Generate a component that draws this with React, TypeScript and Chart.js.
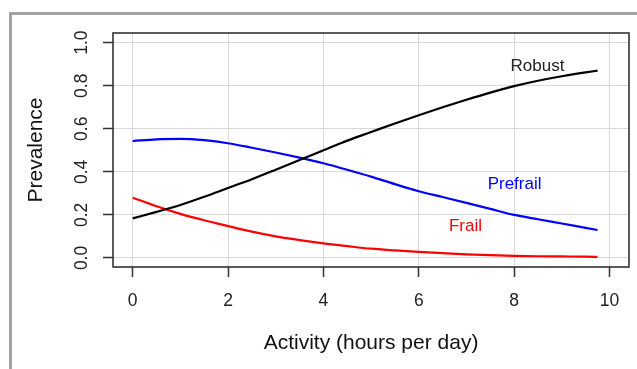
import React, { useEffect, useRef } from 'react';
import { Chart, registerables } from 'chart.js';

Chart.register(...registerables);

// ---- data ----
const activity = [0, 0.5, 1, 1.5, 2, 2.5, 3, 3.5, 4, 4.5, 5, 5.5, 6, 6.5, 7, 7.5, 8, 8.5, 9, 9.5, 9.75];
const robust = [0.184, 0.214, 0.246, 0.284, 0.325, 0.366, 0.41, 0.455, 0.5, 0.545, 0.585, 0.625, 0.663, 0.7, 0.735, 0.768, 0.798, 0.823, 0.844, 0.862, 0.87];
const prefrail = [0.543, 0.551, 0.553, 0.547, 0.533, 0.512, 0.49, 0.466, 0.44, 0.41, 0.378, 0.343, 0.31, 0.283, 0.256, 0.228, 0.2, 0.18, 0.16, 0.14, 0.13];
const frail = [0.28, 0.24, 0.205, 0.175, 0.148, 0.122, 0.1, 0.083, 0.068, 0.055, 0.043, 0.035, 0.028, 0.022, 0.017, 0.013, 0.01, 0.008, 0.007, 0.006, 0.005];

const seriesNames = ['Robust', 'Prefrail', 'Frail'];
const seriesColors = ['#000000', '#0000ff', '#ff0000'];
const labelColors = ['#222222', '#0000ff', '#ff0000'];
// label anchor positions in data units (x, y)
const labelX = [8.49, 8.01, 6.98];
const labelY = [0.89, 0.343, 0.149];

const xTicks = [0, 2, 4, 6, 8, 10];
const yTicks = [0, 0.2, 0.4, 0.6, 0.8, 1.0];

const xTitle = 'Activity (hours per day)';
const yTitle = 'Prevalence';

const FONT = "Arial, 'Liberation Sans', sans-serif";

const framePlugin = {
  id: 'frame',
  beforeDraw(chart: any) {
    const { ctx, width, height } = chart;
    ctx.save();
    ctx.fillStyle = '#ffffff';
    ctx.fillRect(0, 0, width, height);
    ctx.fillStyle = '#a3a3a3';
    ctx.fillRect(9, 12, width - 9, 3);
    ctx.fillRect(9, 12, 3, height - 12);
    ctx.restore();
  },
  afterDraw(chart: any) {
    const { ctx, chartArea, scales } = chart;
    ctx.save();
    // text labels
    ctx.font = `17px ${FONT}`;
    ctx.textAlign = 'center';
    ctx.textBaseline = 'middle';
    seriesNames.forEach((name, i) => {
      ctx.fillStyle = labelColors[i];
      ctx.fillText(name, scales.x.getPixelForValue(labelX[i]), scales.y.getPixelForValue(labelY[i]));
    });
    // box
    ctx.strokeStyle = '#333333';
    ctx.lineWidth = 1.6;
    ctx.strokeRect(chartArea.left, chartArea.top, chartArea.right - chartArea.left, chartArea.bottom - chartArea.top);
    ctx.restore();
  },
};

export default function App() {
  const canvasRef = useRef<HTMLCanvasElement | null>(null);

  useEffect(() => {
    const canvas = canvasRef.current;
    if (!canvas) return;
    Chart.defaults.font.family = FONT;
    const mk = (vals: number[]) => activity.map((x, i) => ({ x, y: vals[i] }));
    const all = [robust, prefrail, frail];
    const chart = new Chart(canvas, {
      type: 'line',
      data: {
        datasets: all.map((vals, i) => ({
          label: seriesNames[i],
          data: mk(vals),
          borderColor: seriesColors[i],
          borderWidth: 2.2,
          pointRadius: 0,
          fill: false,
          cubicInterpolationMode: 'monotone' as const,
        })),
      },
      options: {
        animation: false,
        responsive: false,
        devicePixelRatio: 1,
        layout: { padding: { left: 0, top: 33, right: 8, bottom: 0 } },
        plugins: { legend: { display: false }, tooltip: { enabled: false } },
        scales: {
          x: {
            type: 'linear',
            min: -0.413,
            max: 10.41,
            afterBuildTicks: (s: any) => {
              s.ticks = xTicks.map((v) => ({ value: v }));
            },
            afterFit: (s: any) => {
              s.height = 102;
            },
            border: { display: false },
            grid: { color: '#d9d9d9', lineWidth: 1, tickColor: '#333333', tickWidth: 1.5, tickLength: 10 },
            ticks: { color: '#222222', font: { size: 17.5 }, padding: 14, maxRotation: 0, callback: (v: any) => String(v) },
            title: { display: true, text: xTitle, color: '#111111', font: { size: 21 }, padding: { top: 0, bottom: 13 } },
          },
          y: {
            type: 'linear',
            min: -0.042,
            max: 1.045,
            afterBuildTicks: (s: any) => {
              s.ticks = yTicks.map((v) => ({ value: v }));
            },
            afterFit: (s: any) => {
              s.width = 113;
            },
            border: { display: false },
            grid: { color: '#d9d9d9', lineWidth: 1, tickColor: '#333333', tickWidth: 1.5, tickLength: 10 },
            ticks: {
              color: '#222222',
              font: { size: 17.5 },
              padding: 9,
              minRotation: 90,
              maxRotation: 90,
              crossAlign: 'center',
              callback: (v: any) => Number(v).toFixed(1),
            },
            title: { display: true, text: yTitle, color: '#111111', font: { size: 21 }, padding: { top: 24, bottom: 0 } },
          },
        },
      },
      plugins: [framePlugin],
    } as any);
    return () => chart.destroy();
  }, []);

  return (
    <div style={{ position: 'absolute', left: 0, top: 0, width: 637, height: 369 }}>
      <canvas ref={canvasRef} width={637} height={369} style={{ display: 'block', width: 637, height: 369 }} />
    </div>
  );
}
